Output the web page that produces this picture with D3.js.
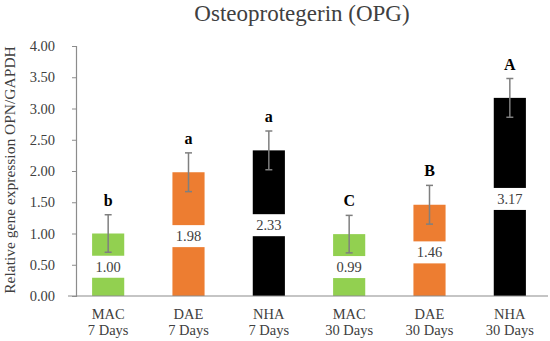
<!DOCTYPE html>
<html>
<head>
<meta charset="utf-8">
<script src="https://cdn.jsdelivr.net/npm/d3@7"></script>
<style>
	body { margin: 0; background: #fff; }
	svg { display: block; font-family: "Liberation Serif", "Times New Roman", serif; }
</style>
</head>
<body>
<svg width="550" height="341"></svg>
<script>
const groups = ["MAC", "DAE", "NHA", "MAC", "DAE", "NHA"];
const periods = ["7 Days", "7 Days", "7 Days", "30 Days", "30 Days", "30 Days"];
const values = [1.00, 1.98, 2.33, 0.99, 1.46, 3.17];
const errors = [0.30, 0.31, 0.31, 0.30, 0.31, 0.31];
const letters = ["b", "a", "a", "C", "B", "A"];
const y_ticks = [0, 0.5, 1, 1.5, 2, 2.5, 3, 3.5, 4];
const colors = { MAC: "#92D050", DAE: "#ED7D31", NHA: "#000000" };

const text_color = "#404040";
const axis_color = "#8c8c8c";
const svg = d3.select("svg");

const keys = groups.map((g, i) => i);

const x = d3.scaleBand()
	.domain(keys)
	.range([68, 550])
	.paddingInner(0.6)
	.paddingOuter(0.3);

const y = d3.scaleLinear()
	.domain([0, 4])
	.range([296, 46]);

// title
svg.append("text")
	.attr("x", 302)
	.attr("y", 21)
	.attr("text-anchor", "middle")
	.attr("font-size", 23)
	.attr("fill", text_color)
	.text("Osteoprotegerin (OPG)");

// y axis
const y_axis = d3.axisLeft(y)
	.tickValues(y_ticks)
	.tickSize(4)
	.tickPadding(17)
	.tickFormat(d3.format(".2f"));

const gy = svg.append("g")
	.attr("transform", "translate(76,0)")
	.call(y_axis);
gy.attr("font-family", null);
gy.select(".domain").attr("stroke", axis_color).attr("stroke-width", 1.2);
gy.selectAll(".tick line").attr("stroke", axis_color);
gy.selectAll(".tick text")
	.attr("font-size", 14.5)
	.attr("fill", text_color);

svg.append("text")
	.attr("transform", "translate(15,170) rotate(-90)")
	.attr("text-anchor", "middle")
	.attr("font-size", 15.5)
	.attr("fill", text_color)
	.text("Relative gene expression OPN/GAPDH");

// bars
keys.forEach((i) => {
	const bx = x(i);
	const bw = x.bandwidth();
	const cx = bx + bw / 2;

	svg.append("rect")
		.attr("x", bx)
		.attr("y", y(values[i]))
		.attr("width", bw)
		.attr("height", y(0) - y(values[i]))
		.attr("fill", colors[groups[i]]);

	// error bar
	const top = y(values[i] + errors[i]);
	const bottom = y(values[i] - errors[i]);
	const eg = svg.append("g").attr("stroke", "#7f7f7f").attr("stroke-width", 1.5);
	eg.append("line").attr("x1", cx).attr("x2", cx).attr("y1", top).attr("y2", bottom);
	eg.append("line").attr("x1", cx - 3.5).attr("x2", cx + 3.5).attr("y1", top).attr("y2", top);
	eg.append("line").attr("x1", cx - 3.5).attr("x2", cx + 3.5).attr("y1", bottom).attr("y2", bottom);

	// value label with white box at bar centre
	const ly = (y(values[i]) + y(0)) / 2 + 2;
	svg.append("rect")
		.attr("x", bx - 2)
		.attr("y", ly - 11)
		.attr("width", bw + 4)
		.attr("height", 22)
		.attr("fill", "#fff");
	svg.append("text")
		.attr("x", cx)
		.attr("y", ly + 5)
		.attr("text-anchor", "middle")
		.attr("font-size", 14.5)
		.attr("fill", text_color)
		.text(values[i].toFixed(2));

	// significance letter
	svg.append("text")
		.attr("x", cx)
		.attr("y", top - 9)
		.attr("text-anchor", "middle")
		.attr("font-size", 16)
		.attr("font-weight", "bold")
		.attr("fill", "#000")
		.text(letters[i]);

	// category label
	const lab = svg.append("text")
		.attr("text-anchor", "middle")
		.attr("font-size", 14.5)
		.attr("fill", text_color);
	lab.append("tspan").attr("x", cx).attr("y", 319).text(groups[i]);
	lab.append("tspan").attr("x", cx).attr("y", 335).text(periods[i]);
});

// x axis line
svg.append("line")
	.attr("x1", 68)
	.attr("x2", 548)
	.attr("y1", y(0))
	.attr("y2", y(0))
	.attr("stroke", axis_color)
	.attr("stroke-width", 1.2);
</script>
</body>
</html>
